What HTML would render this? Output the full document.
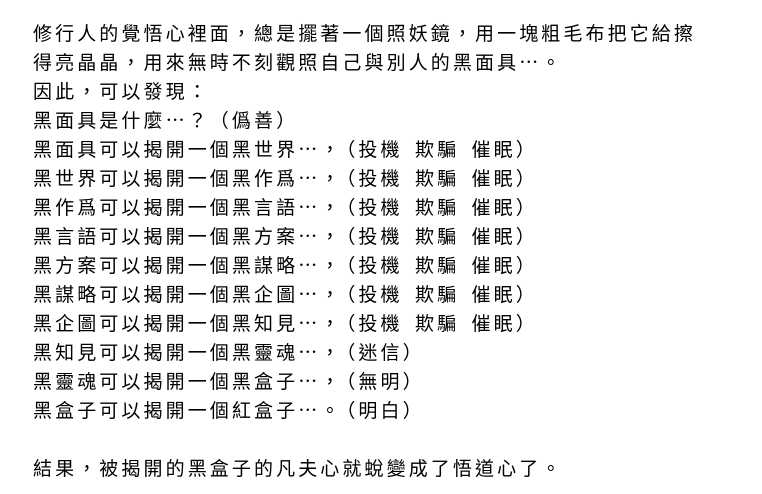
<!DOCTYPE html>
<html><head><meta charset="utf-8"><style>
html,body{margin:0;padding:0;background:#fff;width:762px;height:494px;overflow:hidden}
.t{position:absolute;left:33px;top:18px;font-family:"Noto Sans CJK TC","Liberation Sans",sans-serif;font-size:19px;letter-spacing:3.1px;word-spacing:5px;line-height:29px;color:#000;white-space:pre;text-spacing-trim:space-all;font-feature-settings:"chws" 0,"halt" 0;font-kerning:none}
.c{letter-spacing:-3px}
</style></head><body>
<div class="t">修行人的覺悟心裡面，總是擺著一個照妖鏡，用一塊粗毛布把它給擦
得亮晶晶，用來無時不刻觀照自己與別人的黑面具…。
因此，可以發現：
黑面具是什麼…？（僞善）
黑面具可以揭開一個黑世界…<span class="c">，</span>（投機 欺騙 催眠）
黑世界可以揭開一個黑作爲…<span class="c">，</span>（投機 欺騙 催眠）
黑作爲可以揭開一個黑言語…<span class="c">，</span>（投機 欺騙 催眠）
黑言語可以揭開一個黑方案…<span class="c">，</span>（投機 欺騙 催眠）
黑方案可以揭開一個黑謀略…<span class="c">，</span>（投機 欺騙 催眠）
黑謀略可以揭開一個黑企圖…<span class="c">，</span>（投機 欺騙 催眠）
黑企圖可以揭開一個黑知見…<span class="c">，</span>（投機 欺騙 催眠）
黑知見可以揭開一個黑靈魂…<span class="c">，</span>（迷信）
黑靈魂可以揭開一個黑盒子…<span class="c">，</span>（無明）
黑盒子可以揭開一個紅盒子…<span class="c">。</span>（明白）

結果，被揭開的黑盒子的凡夫心就蛻變成了悟道心了。</div>
</body></html>
